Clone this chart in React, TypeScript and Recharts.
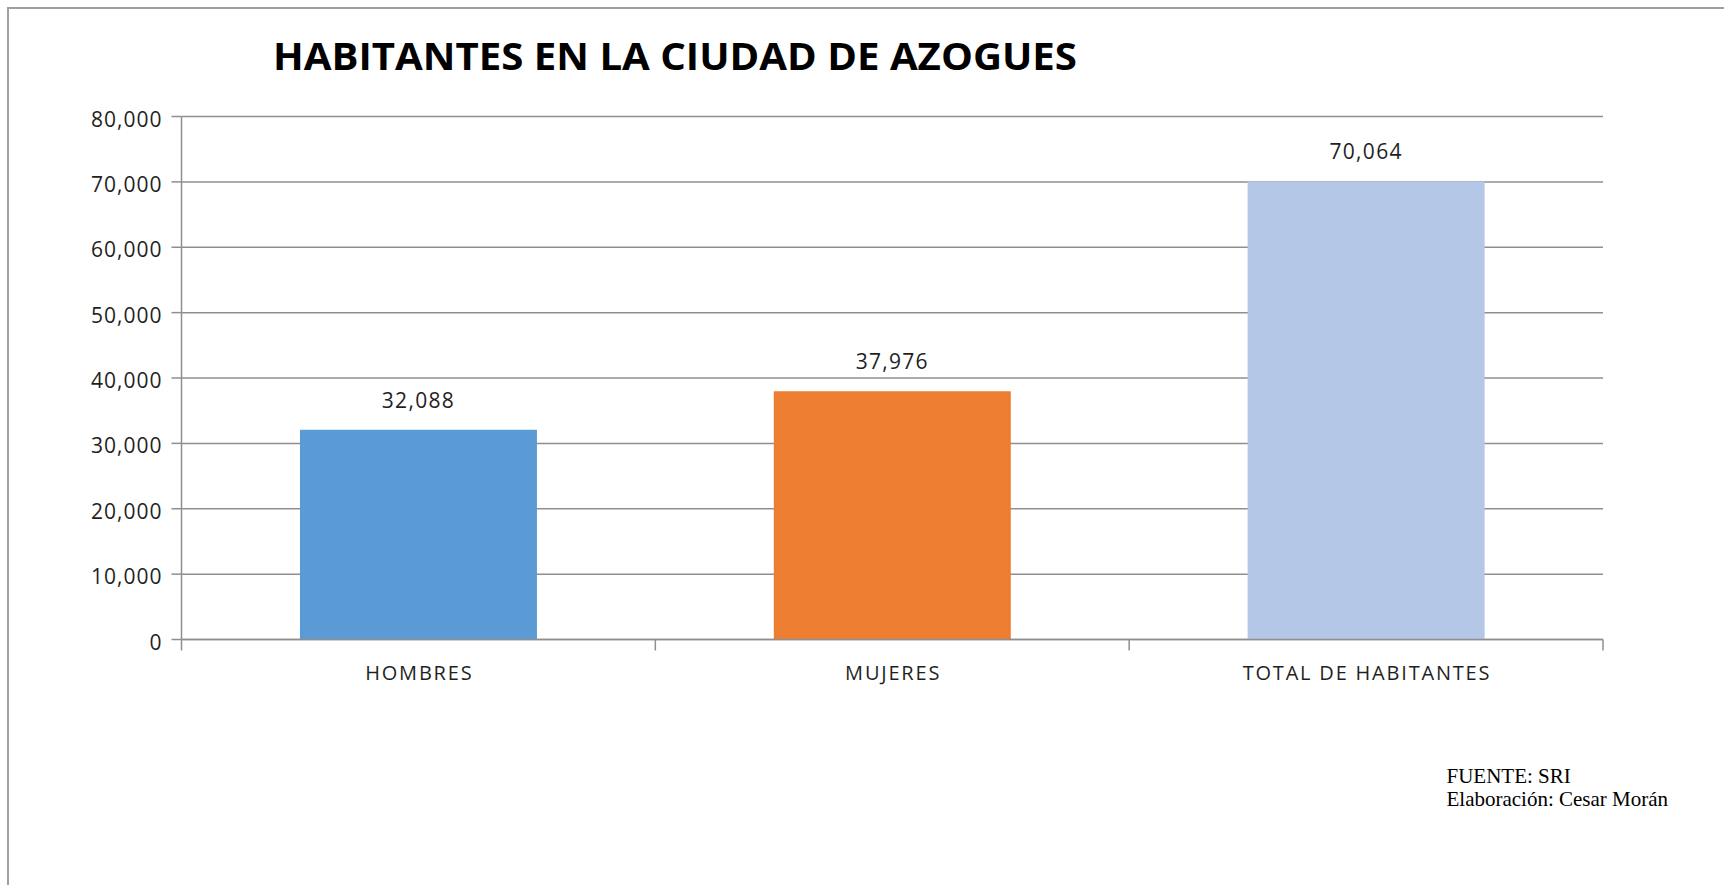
import React from "react";
import { BarChart, Bar, XAxis, YAxis, CartesianGrid, Cell, LabelList } from "recharts";

const categories = ["HOMBRES", "MUJERES", "TOTAL DE HABITANTES"];
const values = [32088, 37976, 70064];
const barColors = ["#5B9BD5", "#ED7D31", "#B4C7E7"];
const yTicks = [0, 10000, 20000, 30000, 40000, 50000, 60000, 70000, 80000];
const titleText = "HABITANTES EN LA CIUDAD DE AZOGUES";
const sourceLines = ["FUENTE: SRI", "Elaboración: Cesar Morán"];

const data = categories.map((c, i) => ({ name: c, value: values[i] }));

const W = 1724;
const H = 885;
const PLOT_LEFT = 181.5;
const PLOT_RIGHT = 1603;
const PLOT_TOP = 116.5;
const PLOT_BOTTOM = 639.5;
const Y_AXIS_W = 100;
const X_AXIS_H = 40;
const GRID = "#8f8f8f";
const TEXT = "#1f1f1f";
const FONT = "'Open Sans', sans-serif";

const fmt = (v: number) => Number(v).toLocaleString("en-US");

const CategoryTick = (props: any) => {
  const { x, y, payload, index } = props;
  const band = (PLOT_RIGHT - PLOT_LEFT) / categories.length;
  return (
    <g>
      <line x1={x - band / 2} x2={x - band / 2} y1={y} y2={y + 11} stroke={GRID} strokeWidth={1.5} />
      {index === categories.length - 1 && (
        <line x1={x + band / 2} x2={x + band / 2} y1={y} y2={y + 11} stroke={GRID} strokeWidth={1.5} />
      )}
      <text
        x={x + 0.9}
        y={y + 40}
        textAnchor="middle"
        fontSize={20}
        fontFamily={FONT}
        letterSpacing={1.8}
        fill={TEXT}
      >
        {payload.value}
      </text>
    </g>
  );
};

const ValueTick = (props: any) => {
  const { x, y, payload } = props;
  return (
    <text
      x={x + 1}
      y={y + 10}
      textAnchor="end"
      fontSize={21}
      fontFamily={FONT}
      letterSpacing={1}
      fill={TEXT}
    >
      {fmt(payload.value)}
    </text>
  );
};

export default function App() {
  return (
    <div style={{ position: "fixed", left: 0, top: 0, width: W, height: H, overflow: "hidden", background: "#fff" }}>
      <div
        style={{
          position: "absolute",
          left: 7,
          top: 7,
          width: 1900,
          height: 1100,
          border: "2px solid #a0a0a0",
          boxSizing: "border-box",
        }}
      />
      <div style={{ position: "absolute", left: 0, top: 0 }}>
        <BarChart
          width={W}
          height={H}
          data={data}
          barCategoryGap="25%"
          margin={{
            top: PLOT_TOP,
            right: W - PLOT_RIGHT,
            left: PLOT_LEFT - Y_AXIS_W,
            bottom: H - PLOT_BOTTOM - X_AXIS_H,
          }}
        >
          <CartesianGrid vertical={false} stroke={GRID} strokeWidth={1.5} />
          <XAxis
            dataKey="name"
            height={X_AXIS_H}
            axisLine={{ stroke: GRID, strokeWidth: 1.5 }}
            tickLine={false}
            tickSize={0}
            tickMargin={0}
            tick={<CategoryTick />}
            interval={0}
          />
          <YAxis
            width={Y_AXIS_W}
            domain={[0, 80000]}
            ticks={yTicks}
            interval={0}
            axisLine={{ stroke: GRID, strokeWidth: 1.5 }}
            tickLine={{ stroke: GRID, strokeWidth: 1.5 }}
            tickSize={10}
            tickMargin={10}
            tick={<ValueTick />}
          />
          <Bar dataKey="value" isAnimationActive={false}>
            {data.map((d, i) => (
              <Cell key={d.name} fill={barColors[i]} />
            ))}
            <LabelList
              dataKey="value"
              position="top"
              offset={22}
              formatter={(v: any) => fmt(v)}
              style={{ fontSize: 21, fontFamily: FONT, fill: TEXT, letterSpacing: 1.3 }}
            />
          </Bar>
        </BarChart>
      </div>
      <svg style={{ position: "absolute", left: 0, top: 0 }} width={W} height={120}>
        <text
          x={273}
          y={70}
          fontSize={37}
          fontWeight={700}
          fontFamily={FONT}
          fill="#000"
          textLength={804}
          lengthAdjust="spacingAndGlyphs"
        >
          {titleText}
        </text>
      </svg>
      <div
        style={{
          position: "absolute",
          left: 1446.5,
          top: 765.4,
          fontFamily: "'Liberation Serif', 'Times New Roman', serif",
          fontSize: 21,
          lineHeight: "23px",
          color: "#000",
          whiteSpace: "nowrap",
        }}
      >
        {sourceLines.map((l) => (
          <div key={l}>{l}</div>
        ))}
      </div>
    </div>
  );
}
